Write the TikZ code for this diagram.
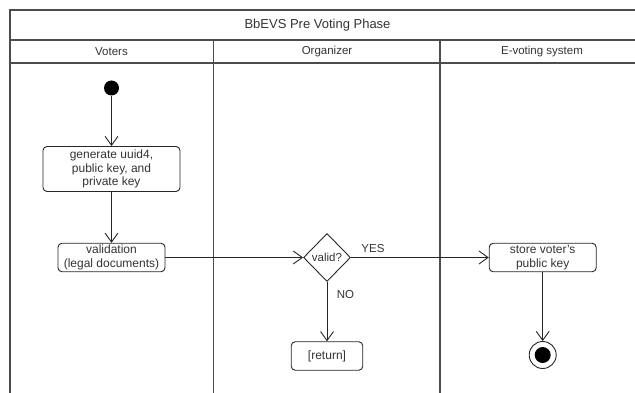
\documentclass[tikz,border=0pt]{standalone}
\usepackage{fontspec}
\setmainfont{Liberation Sans}
\usetikzlibrary{arrows.meta,shapes.geometric,positioning}

\begin{document}
\begin{tikzpicture}[x=1pt,y=-1pt,
  swim/.style={draw=black!70,line width=1.2pt},
  actbox/.style={draw=black!85,line width=0.9pt,rounded corners=4pt,inner sep=0pt,align=center,
    text=black!80,font=\fontsize{12}{13.5}\selectfont},
  choice/.style={diamond,draw=black!85,line width=0.9pt,inner sep=0pt,minimum width=47pt,minimum height=48pt,
    text=black!80,font=\fontsize{11.5}{13.5}\selectfont},
  flow/.style={draw=black!85,line width=0.9pt,-{Straight Barb[length=9pt,width=13pt]}},
  lbl/.style={text=black!80,font=\fontsize{11.5}{13.5}\selectfont}]
\useasboundingbox (0,0) rectangle (635,393);

% swimlane frame
\draw[swim] (10,393) -- (10,10) -- (635,10);
\draw[swim] (10,40) -- (635,40);
\draw[swim] (10,63) -- (635,63);
\draw[swim] (213.5,40) -- (213.5,393);
\draw[swim] (440,40) -- (440,393);
\node[lbl,font=\fontsize{13}{15}\selectfont] (phase) at (317.5,25) {BbEVS Pre Voting Phase};
\node[lbl] (voters) at (111.5,52) {Voters};
\node[lbl] (organizer) at (327,52) {Organizer};
\node[lbl] (evoting) at (542,52) {E-voting system};

% activities
\node[circle,fill=black,inner sep=0pt,minimum size=15pt] (start) at (111.5,88) {};
\node[actbox,minimum width=137pt,minimum height=45pt] (generate) at (111.5,169) {generate uuid4,\\public key, and\\private key};
\node[actbox,minimum width=107pt,minimum height=28.5pt] (validation) at (111.5,257.5) {validation\\(legal documents)};
\node[choice] (valid) at (327,257.5) {valid?};
\node[actbox,minimum width=107pt,minimum height=28.5pt] (store) at (542.7,257.5) {store voter's\\public key};
\node[actbox,minimum width=71.5pt,minimum height=28.5pt] (return) at (327,356) {[return]};
\node[circle,draw=black!85,line width=0.9pt,inner sep=0pt,minimum size=27pt] (stop) at (542.7,355) {};
\fill (stop.center) circle (8pt);

% transitions
\draw[flow] (start) -- (generate);
\draw[flow] (generate) -- (validation);
\draw[flow] (validation) -- (valid);
\draw[flow] (valid) -- node[lbl,pos=0.16,above=1pt] {YES} (store);
\draw[flow] (valid) -- node[lbl,pos=0.21,right=6pt] {NO} (return);
\draw[flow] (store) -- (stop);
\end{tikzpicture}
\end{document}
